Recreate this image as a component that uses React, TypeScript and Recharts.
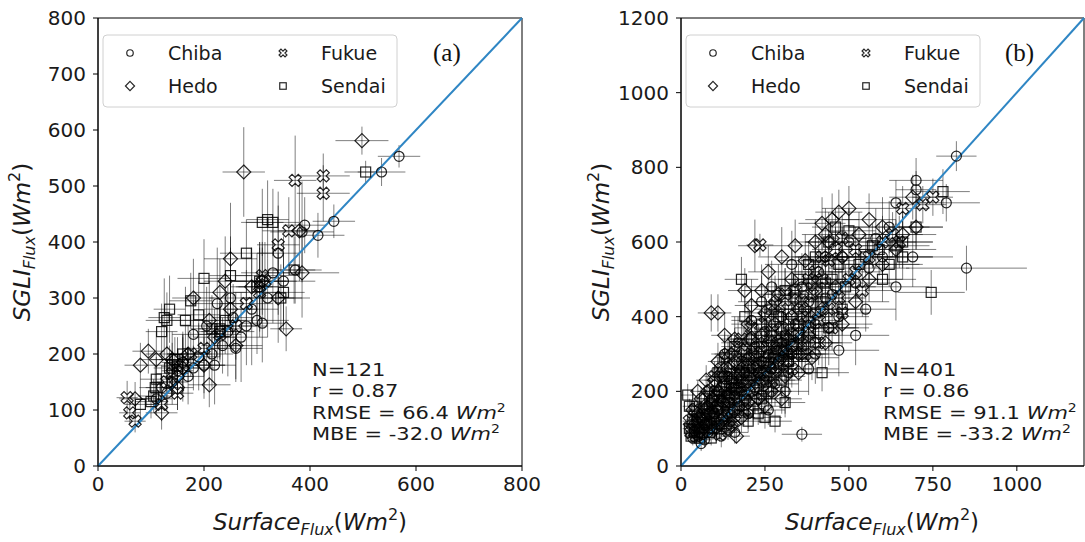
import React from 'react';
import { ScatterChart, Scatter, XAxis, YAxis, ErrorBar, ReferenceLine, ReferenceArea } from 'recharts';

// [surface flux, SGLI flux, x error, y error]
const chibaA = [[568,553,40,20],[535,525,45,25],[445,437,40,30],[415,412,50,40],[390,430,40,50],[385,418,60,90],[372,350,50,60],[340,380,40,110],[330,345,60,90],[320,300,50,70],[305,320,40,80],[300,260,60,60],[290,280,50,100],[280,250,40,70],[270,230,50,80],[255,265,40,60],[245,240,50,80],[235,215,40,50],[225,290,50,100],[215,200,40,60],[205,250,50,70],[200,180,40,50],[190,195,40,60],[180,175,40,40],[170,160,30,50],[160,185,40,50],[150,170,30,40],[140,150,30,40],[130,130,30,30],[120,140,30,40],[110,120,30,30],[250,300,40,90],[220,180,40,70],[260,210,50,60],[310,255,40,70],[350,330,60,80],[180,235,40,60]];
const hedoA = [[498,581,50,25],[275,525,40,80],[355,245,30,40],[385,345,70,80],[380,420,40,90],[340,300,60,80],[310,330,50,60],[290,320,40,70],[250,370,50,100],[240,330,40,80],[230,310,50,60],[220,230,40,50],[210,145,40,40],[200,180,40,60],[180,300,40,70],[170,200,40,50],[160,175,30,60],[150,160,30,40],[140,190,40,50],[130,200,40,60],[110,190,30,50],[95,205,30,40],[80,180,30,40],[70,120,30,30],[120,95,30,30],[260,215,50,60],[210,260,40,70],[150,140,30,40],[250,280,50,70]];
const fukueA = [[425,518,50,40],[425,487,50,50],[372,510,40,80],[360,420,50,60],[340,395,40,70],[315,330,60,70],[310,340,50,60],[305,310,50,80],[280,290,50,60],[260,250,40,60],[230,235,40,50],[200,210,40,50],[175,200,40,40],[160,180,30,50],[140,165,30,40],[130,150,30,40],[55,122,20,30],[60,95,20,20],[70,80,20,20],[120,110,30,30],[150,130,30,30]];
const sendaiA = [[505,525,40,20],[370,350,40,60],[350,310,40,70],[330,435,50,60],[320,440,40,70],[310,435,40,60],[305,330,50,70],[300,320,40,60],[280,380,50,60],[250,340,40,70],[240,260,40,60],[230,240,40,50],[215,245,40,60],[200,335,50,70],[190,270,40,60],[175,295,40,50],[165,260,40,60],[160,200,30,40],[150,190,30,40],[135,280,30,60],[130,260,40,50],[125,265,30,70],[120,240,30,50],[110,155,30,40],[108,140,30,40],[105,125,30,30],[100,115,30,30],[140,180,30,40],[145,190,30,40],[80,110,30,30],[345,300,40,60],[135,175,30,40],[150,178,30,30],[230,245,40,50]];

const chibaB = [[820,830,60,40],[700,765,80,60],[790,705,100,50],[700,740,60,50],[640,705,90,60],[850,530,180,60],[690,560,120,80],[640,480,100,90],[600,560,150,70],[560,530,120,60],[520,350,100,80],[470,400,90,70],[440,370,120,100],[430,450,110,60],[410,520,80,90],[400,300,60,80],[380,260,90,70],[360,85,60,20],[350,420,100,80],[340,380,90,70],[330,300,80,60],[320,250,70,90],[310,350,100,60],[300,330,80,80],[290,280,90,50],[280,320,70,60],[270,260,80,70],[260,300,60,80],[250,230,90,60],[240,280,70,50],[230,250,80,60],[220,210,60,70],[210,260,70,50],[200,230,60,60],[195,180,50,40],[190,250,60,50],[180,200,70,60],[175,160,50,40],[170,220,60,50],[160,190,50,60],[155,150,40,50],[150,210,60,40],[145,170,50,50],[140,140,40,30],[135,190,50,60],[130,160,40,40],[125,130,40,30],[120,180,50,50],[115,110,30,30],[110,150,40,40],[105,120,30,40],[100,140,40,30],[95,100,30,30],[90,170,40,50],[85,120,30,30],[80,90,30,20],[75,140,30,40],[70,110,30,30],[65,85,20,20],[60,130,30,40],[55,100,20,30],[50,80,20,20],[45,120,20,30],[40,95,20,20],[35,75,20,20],[30,110,20,30],[160,90,40,30],[200,140,50,40],[240,190,60,50],[280,220,70,60],[320,280,80,70],[360,320,90,60],[400,380,80,70],[450,460,100,60],[480,560,80,80],[500,600,70,90],[430,560,90,60],[520,490,110,70],[550,420,90,60],[470,310,120,70],[380,440,60,80],[360,480,80,90],[300,400,70,80],[250,360,60,60],[220,320,70,50],[180,280,60,60],[140,240,50,50],[100,200,40,50],[80,160,30,40],[60,60,30,20],[70,70,20,20],[120,80,30,30],[260,150,50,40],[310,200,70,60],[130,300,40,60],[170,330,50,70],[210,390,60,80],[240,440,70,70],[270,480,80,70],[330,540,80,90],[580,610,100,80],[620,640,120,70]];
const hedoB = [[600,640,100,80],[690,720,70,60],[560,660,80,70],[530,620,90,60],[480,560,80,70],[460,480,90,60],[440,600,70,80],[420,420,100,70],[400,470,80,60],[380,350,90,70],[370,420,70,50],[350,300,80,60],[330,400,70,70],[320,340,60,50],[300,290,70,60],[290,460,60,80],[280,380,70,60],[270,330,60,50],[260,270,70,60],[250,410,60,70],[240,350,60,60],[230,300,50,50],[220,260,60,60],[210,430,50,70],[205,340,50,60],[200,290,50,50],[190,220,50,40],[185,310,50,60],[180,260,40,50],[170,240,40,40],[165,200,40,50],[160,280,40,60],[150,230,40,40],[145,190,40,40],[140,260,40,50],[130,220,30,40],[125,170,30,40],[120,240,30,50],[110,200,30,40],[105,160,30,30],[100,230,30,40],[90,410,40,50],[110,410,40,50],[95,180,30,30],[85,140,30,30],[80,200,30,40],[70,160,20,30],[65,120,20,30],[60,180,20,30],[55,90,20,20],[50,140,20,30],[40,110,20,20],[35,150,20,30],[165,80,40,20],[150,110,40,30],[230,180,50,40],[270,200,60,50],[310,240,60,50],[350,250,70,60],[390,290,80,60],[430,330,80,70],[480,380,90,60],[520,440,100,70],[560,500,100,60],[600,540,110,70],[640,580,120,80],[660,620,100,70],[700,640,80,60],[250,160,50,40],[300,180,60,40],[120,120,30,30],[140,100,30,30],[180,130,40,40],[200,170,50,40],[240,230,50,50],[280,260,60,50],[320,300,60,60],[360,340,70,60],[240,470,60,70],[260,520,60,70],[300,560,70,80],[340,590,70,70],[370,550,80,70],[400,600,70,60],[330,500,70,80],[280,440,60,70],[200,380,50,60],[160,340,40,60],[220,590,50,70],[190,470,50,60],[150,300,40,50],[110,280,30,50],[75,230,30,40],[50,200,20,30],[130,350,40,60],[420,650,70,70],[450,660,80,70],[470,680,70,60],[500,690,80,60],[430,620,70,70]];
const fukueB = [[235,592,40,30],[460,580,70,60],[440,550,80,70],[420,500,70,60],[400,520,80,60],[390,460,70,60],[380,400,70,60],[360,440,60,50],[350,380,60,60],[340,470,70,60],[330,350,60,50],[320,420,60,60],[310,310,60,50],[300,370,60,50],[290,330,50,50],[280,290,50,40],[270,360,50,50],[260,320,50,50],[250,280,50,40],[240,250,40,40],[230,330,50,50],[220,290,40,40],[210,240,40,40],[200,270,40,40],[190,300,40,50],[180,230,40,40],[170,270,40,40],[160,210,30,40],[150,250,30,40],[140,180,30,30],[130,210,30,30],[120,150,30,30],[110,190,30,30],[100,130,20,30],[90,160,20,30],[80,110,20,20],[70,140,20,30],[60,100,20,20],[50,120,20,20],[45,80,20,20],[40,150,20,20],[30,90,20,20],[25,120,20,20],[150,130,30,30],[170,160,40,30],[200,200,40,40],[230,220,50,40],[260,240,50,50],[290,270,60,50],[320,300,60,50],[350,330,70,60],[380,360,70,60],[410,390,70,60],[440,420,80,60],[470,450,80,70],[500,500,90,60],[520,520,80,70],[180,340,40,50],[210,370,50,60],[250,400,50,60],[280,430,60,60],[310,460,60,70],[140,300,40,50],[120,260,30,40],[100,240,30,40],[85,200,20,30],[95,100,20,20],[115,85,30,20],[130,110,30,20],[160,120,40,30],[190,150,40,30],[220,180,50,40],[270,210,50,40],[330,260,60,50],[370,300,70,50],[410,330,70,60],[450,370,80,60],[480,410,80,60],[540,470,90,70],[560,560,90,60],[600,600,100,70],[630,620,90,60],[660,690,80,60],[650,600,100,70],[720,700,70,50],[750,720,60,50],[380,500,60,60],[420,560,70,60],[480,610,80,60],[520,580,80,60]];
const sendaiB = [[780,735,80,60],[745,465,100,60],[700,640,80,60],[660,600,90,70],[640,590,100,60],[620,540,100,60],[590,580,90,70],[570,590,100,60],[550,560,80,60],[530,540,90,50],[500,630,80,60],[490,480,90,60],[470,540,80,70],[450,500,80,60],[430,490,70,60],[420,440,70,50],[400,410,70,60],[390,490,70,50],[380,370,70,60],[360,400,60,50],[350,350,60,50],[340,450,60,50],[330,320,60,50],[320,380,60,50],[310,340,60,40],[300,310,50,50],[290,400,60,50],[280,300,50,40],[270,350,50,40],[260,290,50,40],[250,250,50,40],[240,320,50,40],[230,270,40,40],[220,230,40,40],[210,300,40,40],[200,250,40,40],[190,190,40,30],[180,500,50,60],[175,250,40,40],[170,210,40,30],[160,180,30,30],[150,220,30,30],[140,170,30,30],[130,240,30,40],[120,200,30,30],[110,160,30,30],[100,190,30,30],[95,140,20,30],[90,120,20,20],[85,90,20,20],[80,150,20,30],[75,110,20,20],[70,180,20,30],[65,90,20,20],[60,130,20,20],[55,75,20,20],[50,110,20,20],[45,160,20,30],[40,90,20,20],[35,125,20,20],[30,80,20,20],[25,100,20,20],[20,190,20,30],[25,160,20,20],[90,75,20,20],[120,100,30,20],[140,120,30,30],[160,150,30,30],[200,150,40,30],[240,180,50,40],[280,250,50,40],[320,280,60,50],[360,300,60,50],[400,330,70,50],[440,370,80,60],[480,420,80,60],[400,560,70,60],[440,600,70,60],[460,640,70,50],[380,540,70,60],[350,500,60,60],[310,470,60,60],[270,420,50,50],[240,380,50,50],[210,340,40,50],[190,400,40,50],[160,320,40,50],[130,290,30,40],[110,250,30,40],[200,120,40,30],[260,200,50,40],[230,140,40,30],[300,230,60,40],[250,130,50,30],[310,170,60,40],[280,120,50,30],[600,500,100,60],[660,560,90,60],[420,250,80,50]];

const ticksA = [0, 100, 200, 300, 400, 500, 600, 700, 800];
const xTicksA = [0, 200, 400, 600, 800];
const ticksB = [0, 200, 400, 600, 800, 1000, 1200];
const xTicksB = [0, 250, 500, 750, 1000];
const stations = ['Chiba', 'Hedo', 'Fukue', 'Sendai'];
const statsA = ['N=121', 'r = 0.87', '66.4', '-32.0'];
const statsB = ['N=401', 'r = 0.86', '91.1', '-33.2'];

const toPts = (arr: number[][]) => arr.map(([x, y, ex, ey]) => ({ x, y, ex, ey }));

const EDGE = { stroke: '#000', strokeOpacity: 0.85, strokeWidth: 1.2, fill: 'none' };

const xPath = (cx: number, cy: number, s: number) => {
  const t = 0.32;
  const base = [[t,t],[t,1],[-t,1],[-t,t],[-1,t],[-1,-t],[-t,-t],[-t,-1],[t,-1],[t,-t],[1,-t],[1,t]];
  return base.map(([a, b]) => `${cx + ((a - b) / Math.SQRT2) * s},${cy + ((a + b) / Math.SQRT2) * s}`).join(' ');
};

const Marker = ({ kind, cx, cy, k = 1 }: any) => {
  if (kind === 0) return <circle cx={cx} cy={cy} r={5 * k} {...EDGE} />;
  if (kind === 1) {
    const d = 7 * k;
    return <polygon points={`${cx},${cy - d} ${cx + d},${cy} ${cx},${cy + d} ${cx - d},${cy}`} {...EDGE} />;
  }
  if (kind === 2) return <polygon points={xPath(cx, cy, 6.5 * k)} {...EDGE} />;
  return <rect x={cx - 5 * k} y={cy - 5 * k} width={10 * k} height={10 * k} {...EDGE} />;
};

const FONT = 'DejaVu Sans';
const tickStyle = { fontSize: 20, fill: '#1a1a1a', fontFamily: FONT };

function Panel({ left, width, yw, right, max, yTicks, xTicks, series }: any) {
  return (
    <div style={{ position: 'absolute', left, top: 0 }}>
      <ScatterChart width={width} height={542} margin={{ top: 18, right, bottom: 36, left: 0 }}>
        <XAxis type="number" dataKey="x" domain={[0, max]} ticks={xTicks} allowDataOverflow
          tick={tickStyle} tickSize={5} tickMargin={6} height={40} stroke="#000" interval={0} />
        <YAxis type="number" dataKey="y" domain={[0, max]} ticks={yTicks} allowDataOverflow
          tick={tickStyle} tickSize={5} tickMargin={7} width={yw} stroke="#000" interval={0} />
        <ReferenceArea x1={0} x2={max} y1={0} y2={max} fill="none" stroke="#000" strokeWidth={1} />
        {series.map((s: number[][], i: number) => (
          <Scatter key={stations[i]} name={stations[i]} data={toPts(s)} isAnimationActive={false}
            shape={(p: any) => <Marker kind={i} cx={p.cx} cy={p.cy} />}>
            <ErrorBar dataKey="ex" direction="x" width={0} stroke="#000" strokeOpacity={0.5} strokeWidth={1} isAnimationActive={false} />
            <ErrorBar dataKey="ey" direction="y" width={0} stroke="#000" strokeOpacity={0.5} strokeWidth={1} isAnimationActive={false} />
          </Scatter>
        ))}
        <ReferenceLine segment={[{ x: 0, y: 0 }, { x: max, y: max }]} stroke="#2f86c4" strokeWidth={2} />
      </ScatterChart>
    </div>
  );
}

const FluxLabel = ({ x, y, main, rotate }: any) => (
  <text x={x} y={y} fontFamily={FONT} fontSize={23} fill="#1a1a1a" textAnchor="middle"
    transform={rotate ? `rotate(-90 ${x} ${y})` : undefined}>
    <tspan fontStyle="italic">{main}</tspan>
    <tspan fontStyle="italic" fontSize={16} dy={5}>Flux</tspan>
    <tspan dy={-5}>(</tspan>
    <tspan fontStyle="italic">Wm</tspan>
    <tspan fontSize={16} dy={-10}>2</tspan>
    <tspan dy={10}>)</tspan>
  </text>
);

const StatLine = ({ x, y, children }: any) => (
  <g transform={`translate(${x} ${y}) scale(1 0.86)`}>
    <text x={0} y={0} fontFamily={FONT} fontSize={21} fill="#1a1a1a">{children}</text>
  </g>
);

const Stats = ({ x, vals }: any) => (
  <g>
    <StatLine x={x} y={376}>{vals[0]}</StatLine>
    <StatLine x={x} y={397}>{vals[1]}</StatLine>
    <StatLine x={x} y={419}>{`RMSE = ${vals[2]} `}<tspan fontStyle="italic">Wm</tspan><tspan fontSize={14} dy={-8}>2</tspan></StatLine>
    <StatLine x={x} y={440}>{`MBE = ${vals[3]} `}<tspan fontStyle="italic">Wm</tspan><tspan fontSize={14} dy={-8}>2</tspan></StatLine>
  </g>
);

const LegendBox = ({ x }: any) => (
  <g>
    <rect x={x} y={35} width={294} height={72} rx={4} fill="#fff" fillOpacity={0.85} stroke="#d0d0d0" />
    {stations.map((s, i) => {
      const col = i === 0 || i === 1 ? 0 : 1;
      const row = i === 0 || i === 2 ? 0 : 1;
      const mx = x + 27 + col * 153;
      const my = 53 + row * 33;
      return (
        <g key={s}>
          <Marker kind={i} cx={mx} cy={my} k={0.65} />
          <text x={mx + 38} y={my + 7} fontFamily={FONT} fontSize={19} fill="#1a1a1a">{s}</text>
        </g>
      );
    })}
  </g>
);

export default function App() {
  return (
    <div style={{ position: 'absolute', left: 0, top: 0, width: 1085, height: 542, background: '#fff', overflow: 'hidden' }}>
      <Panel left={0} width={545} right={23} yw={98} max={800} yTicks={ticksA} xTicks={xTicksA}
        series={[chibaA, hedoA, fukueA, sendaiA]} />
      <Panel left={545} width={540} right={1} yw={136} max={1200} yTicks={ticksB} xTicks={xTicksB}
        series={[chibaB, hedoB, fukueB, sendaiB]} />
      <svg width={1085} height={542} style={{ position: 'absolute', left: 0, top: 0, pointerEvents: 'none' }}>
        <LegendBox x={103} />
        <LegendBox x={686} />
        <text x={433} y={61} fontFamily="Liberation Serif" fontSize={25} fill="#111">(a)</text>
        <text x={1005} y={61} fontFamily="Liberation Serif" fontSize={25} fill="#111">(b)</text>
        <Stats x={312} vals={statsA} />
        <Stats x={883} vals={statsB} />
        <FluxLabel x={310} y={530} main="Surface" />
        <FluxLabel x={882} y={530} main="Surface" />
        <FluxLabel x={30} y={242} main="SGLI" rotate />
        <FluxLabel x={609} y={242} main="SGLI" rotate />
      </svg>
    </div>
  );
}
